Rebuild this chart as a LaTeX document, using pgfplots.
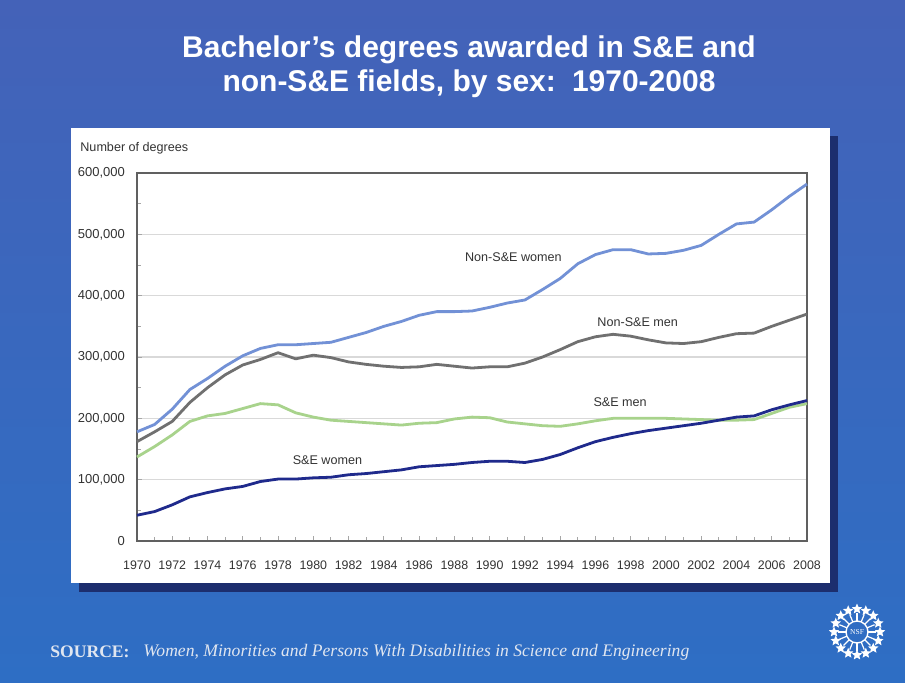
\documentclass[border=0pt]{standalone}
\usepackage{pgfplots}
\pgfplotsset{compat=1.18}
\usepackage{fontspec}
\setmainfont{Liberation Sans}
\newfontfamily\seriffont{Liberation Serif}
\usetikzlibrary{shapes.geometric,calc}
\definecolor{bgtop}{HTML}{4462B8}
\definecolor{bgbot}{HTML}{2E6EC4}
\definecolor{shadowc}{HTML}{1C2E6E}
\definecolor{nsew}{HTML}{7291D6}
\definecolor{nsem}{HTML}{707070}
\definecolor{sem}{HTML}{A8D38C}
\definecolor{sew}{HTML}{1F2A8C}
\definecolor{srcc}{HTML}{E0E6F0}

\pgfplotstableread{
year nsew nsem sem sew
1970 178000 162000 137000 42000
1971 190000 178000 154000 48000
1972 215000 195000 173000 59000
1973 247000 226000 195000 72000
1974 265000 250000 204000 79000
1975 285000 271000 208000 85000
1976 302000 287000 216000 89000
1977 314000 296000 224000 97000
1978 320000 307000 222000 101000
1979 320000 297000 209000 101000
1980 322000 303000 202000 103000
1981 324000 299000 197000 104000
1982 332000 292000 195000 108000
1983 340000 288000 193000 110000
1984 350000 285000 191000 113000
1985 358000 283000 189000 116000
1986 368000 284000 192000 121000
1987 374000 288000 193000 123000
1988 374000 285000 199000 125000
1989 375000 282000 202000 128000
1990 381000 284000 201000 130000
1991 388000 284000 194000 130000
1992 393000 290000 191000 128000
1993 410000 300000 188000 133000
1994 428000 312000 187000 141000
1995 452000 325000 191000 152000
1996 467000 333000 196000 162000
1997 475000 337000 200000 169000
1998 475000 334000 200000 175000
1999 468000 328000 200000 180000
2000 469000 323000 200000 184000
2001 474000 322000 199000 188000
2002 482000 325000 198000 192000
2003 500000 332000 197000 197000
2004 517000 338000 197000 202000
2005 520000 339000 198000 204000
2006 540000 350000 208000 214000
2007 562000 360000 218000 222000
2008 582000 370000 224000 229000
}\degtable

\begin{document}
\begin{tikzpicture}
\begin{scope}[x=0.5pt,y=-0.5pt,yshift=341pt]
  \shade[top color=bgtop, bottom color=bgbot] (0,0) rectangle (905,682);
  \fill[shadowc] (79,136) rectangle (838,592);
  \fill[white] (71,128) rectangle (830,583);
  \node[font=\fontsize{15}{17}\selectfont\bfseries, text=white, align=center] at (469,67)
    {Bachelor’s degrees awarded in S\&E and\\non-S\&E fields, by sex:\, 1970-2008};
  \node[font=\fontsize{6.3}{7}\selectfont, text=black!80, anchor=west, inner sep=0pt] at (80,148) {Number of degrees};
  \node[font=\seriffont\fontsize{8.8}{10}\selectfont\bfseries, text=srcc, anchor=west, inner sep=0pt] at (50,652) {SOURCE:};
  \node[font=\seriffont\fontsize{8.8}{10}\selectfont\itshape, text=srcc, anchor=west, inner sep=0pt] at (143,652) {Women, Minorities and Persons With Disabilities in Science and Engineering};
  % NSF logo
  \draw[white, line width=0.7pt] (857,632) circle (11);
  \node[font=\seriffont\fontsize{3.8}{4}\selectfont, text=white, inner sep=0pt] at (857,632) {NSF};
  \foreach \a in {0,22.5,...,337.5} {
    \draw[white, line width=0.6pt] ($(857,632)+(\a:11)$) -- ($(857,632)+(\a:19)$);
    \node[star, star points=5, star point ratio=2.2, fill=white, inner sep=0pt, minimum size=5.5pt] at ($(857,632)+(\a:23)$) {};
  }
\end{scope}
\begin{axis}[
  at={(68.5pt,70.5pt)}, anchor=south west,
  width=335pt, height=184pt, scale only axis,
  xmin=1970, xmax=2008, ymin=0, ymax=600000,
  xtick={1970,1972,...,2008},
  minor xtick={1971,1973,...,2007},
  ytick={0,100000,...,600000},
  minor ytick={50000,150000,...,550000},
  xticklabel style={/pgf/number format/1000 sep={}, /pgf/number format/assume math mode=true, yshift=-6.5pt, font=\fontsize{6.2}{7}\selectfont},
  yticklabel style={/pgf/number format/fixed, /pgf/number format/precision=0, /pgf/number format/1000 sep={,}, /pgf/number format/assume math mode=true, xshift=-2.5pt, font=\fontsize{6.5}{7}\selectfont},
  scaled y ticks=false,
  tick label style={text=black!80},
  tick pos=left, tick align=inside,
  major tick length=2.5pt, minor tick length=2pt,
  tick style={draw=gray!70, line width=0.5pt},
  axis line style={draw=gray!75!black, line width=0.6pt},
  ymajorgrids, major grid style={draw=gray!30, line width=0.6pt},
  every axis plot/.append style={line width=1.4pt, line join=round, no marks},
  clip=false,
]
\addplot[nsew] table[x=year, y=nsew] {\degtable};
\addplot[nsem] table[x=year, y=nsem] {\degtable};
\addplot[sem] table[x=year, y=sem] {\degtable};
\addplot[sew] table[x=year, y=sew] {\degtable};
\node[font=\fontsize{6.3}{7}\selectfont, text=black!80] at (axis cs:1991.35,463000) {Non-S\&E women};
\node[font=\fontsize{6.3}{7}\selectfont, text=black!80] at (axis cs:1998.4,357600) {Non-S\&E men};
\node[font=\fontsize{6.3}{7}\selectfont, text=black!80] at (axis cs:1997.4,227000) {S\&E men};
\node[font=\fontsize{6.3}{7}\selectfont, text=black!80] at (axis cs:1980.8,132000) {S\&E women};
\end{axis}
\end{tikzpicture}
\end{document}
